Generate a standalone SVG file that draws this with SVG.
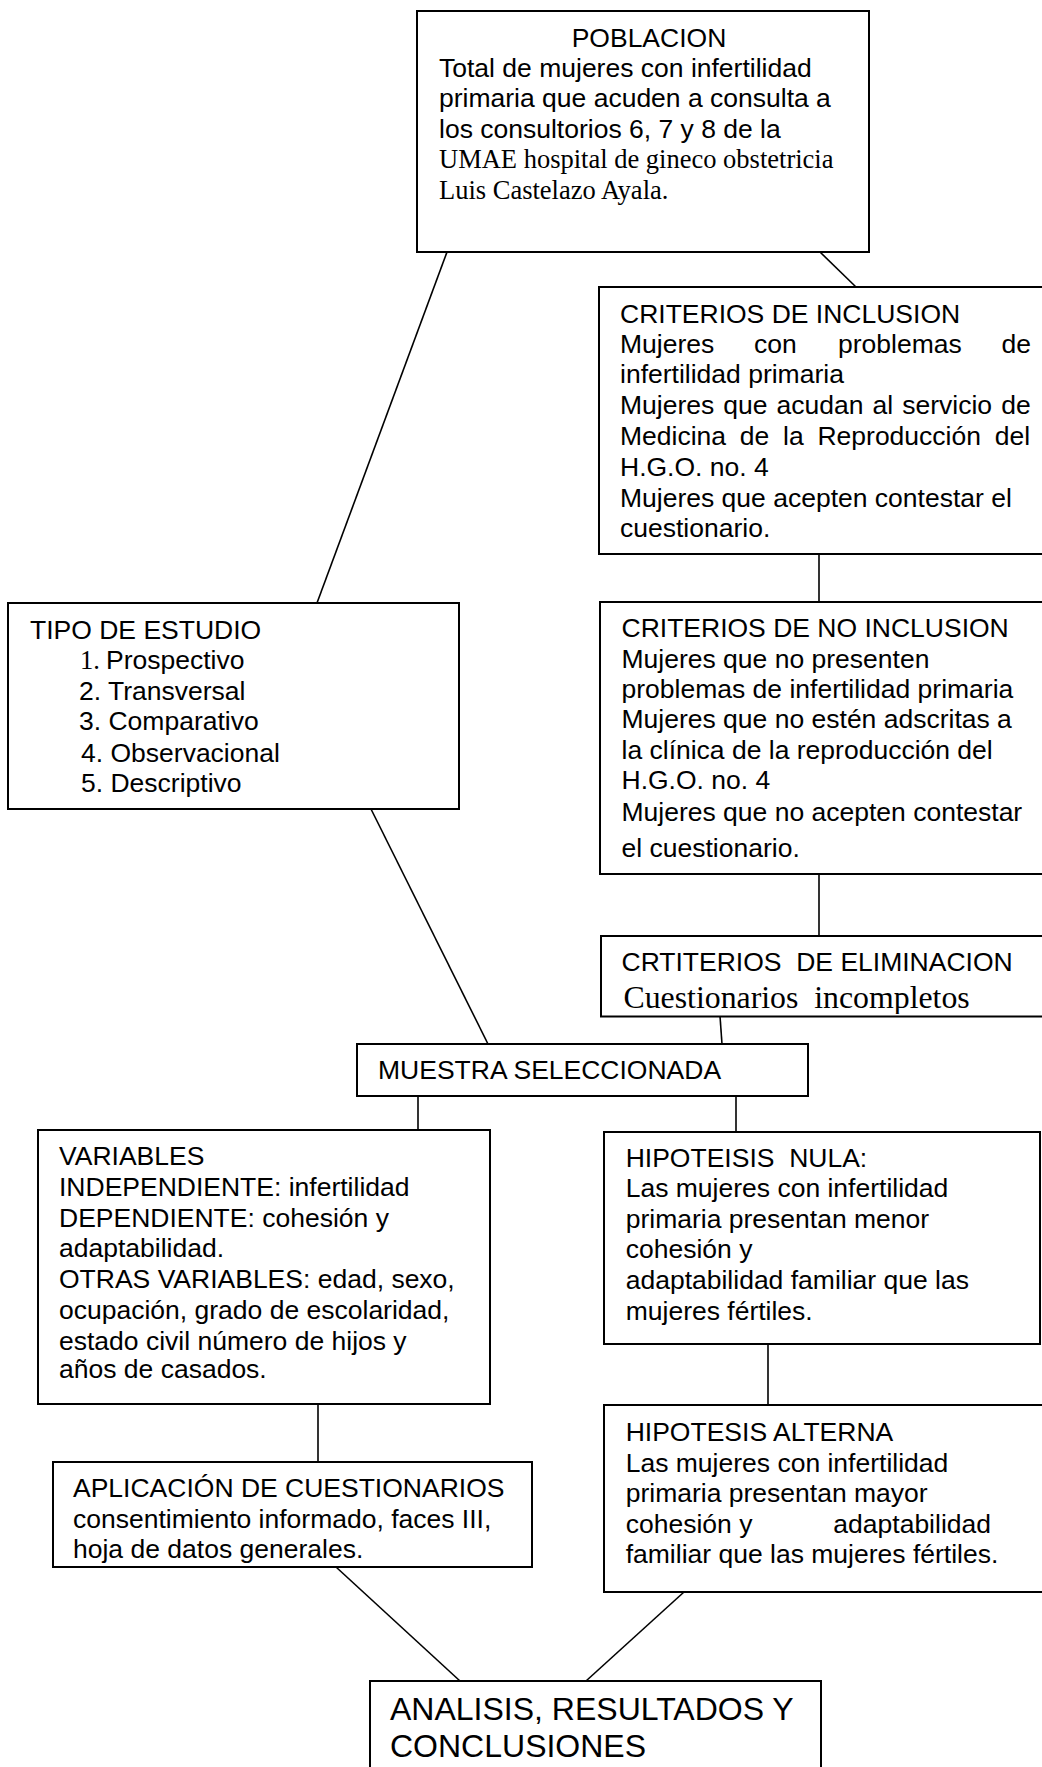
<svg xmlns="http://www.w3.org/2000/svg" width="1042" height="1767" viewBox="0 0 1042 1767">
<style>
.box{fill:#fff;stroke:#000;stroke-width:2}
.ln{stroke:#000;stroke-width:1.6;fill:none}
text{font-family:"Liberation Sans",Arial,sans-serif;font-size:26.5px;fill:#000}
.tr{font-family:"Liberation Serif","Times New Roman",serif}
.big{font-size:32px}
.cue{font-size:31.8px}
</style>
<defs>
<clipPath id="elimclip"><rect x="601" y="936" width="460" height="78"/></clipPath>
</defs>
<rect width="1042" height="1767" fill="#fff"/>
<g id="connectors">
<line class="ln" x1="447" y1="252" x2="317" y2="603"/>
<line class="ln" x1="820" y1="252" x2="856" y2="287"/>
<line class="ln" x1="819" y1="554" x2="819" y2="602"/>
<line class="ln" x1="819" y1="869" x2="819" y2="936"/>
<line class="ln" x1="371" y1="809" x2="488" y2="1044"/>
<line class="ln" x1="720" y1="1016" x2="722" y2="1044"/>
<line class="ln" x1="418" y1="1096" x2="418" y2="1130"/>
<line class="ln" x1="736" y1="1096" x2="736" y2="1132"/>
<line class="ln" x1="768" y1="1344" x2="768" y2="1405"/>
<line class="ln" x1="318" y1="1404" x2="318" y2="1462"/>
<line class="ln" x1="336" y1="1567" x2="460" y2="1681"/>
<line class="ln" x1="684" y1="1592" x2="586" y2="1681"/>
</g>
<g id="poblacion">
<rect class="box" x="417" y="11" width="452" height="241"/>
<text x="649" y="47" text-anchor="middle">POBLACION</text>
<text x="439" y="77.3">Total de mujeres con infertilidad</text>
<text x="439" y="107.3">primaria que acuden a consulta a</text>
<text x="439" y="137.7">los consultorios 6, 7 y 8 de la</text>
<text class="tr" x="439" y="168.3">UMAE hospital de gineco obstetricia</text>
<text class="tr" x="439" y="199">Luis Castelazo Ayala.</text>
</g>
<g id="inclusion">
<rect class="box" x="599" y="287" width="460" height="267"/>
<text x="620" y="322.7">CRITERIOS DE INCLUSION</text>
<text y="353.3"><tspan x="620">Mujeres</tspan><tspan x="754">con</tspan><tspan x="838">problemas</tspan><tspan x="1031" text-anchor="end">de</tspan></text>
<text x="620" y="383.3">infertilidad primaria</text>
<text x="620" y="414.3" word-spacing="1.7">Mujeres que acudan al servicio de</text>
<text x="620" y="445" word-spacing="6.4">Medicina de la Reproducción del</text>
<text x="620" y="475.7">H.G.O. no. 4</text>
<text x="620" y="506.7">Mujeres que acepten contestar el</text>
<text x="620" y="536.7">cuestionario.</text>
</g>
<g id="no-inclusion">
<rect class="box" x="600" y="602" width="460" height="272"/>
<text x="621.5" y="636.7">CRITERIOS DE NO INCLUSION</text>
<text x="621.5" y="668.3">Mujeres que no presenten</text>
<text x="621.5" y="698.3">problemas de infertilidad primaria</text>
<text x="621.5" y="728.3">Mujeres que no estén adscritas a</text>
<text x="621.5" y="759">la clínica de la reproducción del</text>
<text x="621.5" y="789.3">H.G.O. no. 4</text>
<text x="621.5" y="820.7">Mujeres que no acepten contestar</text>
<text x="621.5" y="856.7">el cuestionario.</text>
</g>
<g id="eliminacion">
<rect class="box" x="601" y="936" width="460" height="80.5"/>
<text x="621.5" y="970.5" xml:space="preserve">CRTITERIOS  DE ELIMINACION</text>
<text class="tr cue" x="623.5" y="1007.5" clip-path="url(#elimclip)" xml:space="preserve">Cuestionarios  incompletos</text>
</g>
<g id="tipo-estudio">
<rect class="box" x="8" y="603" width="451" height="206"/>
<text x="30" y="639">TIPO DE ESTUDIO</text>
<text class="tr" x="80" y="669.3">1.</text><text x="106" y="669.3">Prospectivo</text>
<text x="79" y="700">2. Transversal</text>
<text x="79" y="730">3. Comparativo</text>
<text x="81" y="761.7">4. Observacional</text>
<text x="81" y="792.3">5. Descriptivo</text>
</g>
<g id="muestra">
<rect class="box" x="357" y="1044" width="451" height="52"/>
<text x="378" y="1079.3">MUESTRA SELECCIONADA</text>
</g>
<g id="variables">
<rect class="box" x="38" y="1130" width="452" height="274"/>
<text x="59" y="1165">VARIABLES</text>
<text x="59" y="1195.7">INDEPENDIENTE: infertilidad</text>
<text x="59" y="1226.7">DEPENDIENTE: cohesión y</text>
<text x="59" y="1257.3">adaptabilidad.</text>
<text x="59" y="1288.3">OTRAS VARIABLES: edad, sexo,</text>
<text x="59" y="1319">ocupación, grado de escolaridad,</text>
<text x="59" y="1350">estado civil número de hijos y</text>
<text x="59" y="1378.3">años de casados.</text>
</g>
<g id="hipotesis-nula">
<rect class="box" x="604" y="1132" width="436" height="212"/>
<text x="625.7" y="1166.7" xml:space="preserve">HIPOTEISIS  NULA:</text>
<text x="625.7" y="1197.3">Las mujeres con infertilidad</text>
<text x="625.7" y="1228.3">primaria presentan menor</text>
<text x="625.7" y="1258.3">cohesión y</text>
<text x="625.7" y="1289.3">adaptabilidad familiar que las</text>
<text x="625.7" y="1320">mujeres fértiles.</text>
</g>
<g id="hipotesis-alterna">
<rect class="box" x="604" y="1405" width="460" height="187"/>
<text x="625.7" y="1440.7">HIPOTESIS ALTERNA</text>
<text x="625.7" y="1471.7">Las mujeres con infertilidad</text>
<text x="625.7" y="1501.7">primaria presentan mayor</text>
<text y="1532.7"><tspan x="625.7">cohesión y</tspan><tspan x="991" text-anchor="end">adaptabilidad</tspan></text>
<text x="625.7" y="1563.3">familiar que las mujeres fértiles.</text>
</g>
<g id="aplicacion">
<rect class="box" x="53" y="1462" width="479" height="105"/>
<text x="73" y="1497.3">APLICACIÓN DE CUESTIONARIOS</text>
<text x="73" y="1528.3">consentimiento informado, faces III,</text>
<text x="73" y="1558.3">hoja de datos generales.</text>
</g>
<g id="analisis">
<rect class="box" x="370" y="1681" width="451" height="100"/>
<text class="big" x="390" y="1720">ANALISIS, RESULTADOS Y</text>
<text class="big" x="390" y="1756.7">CONCLUSIONES</text>
</g>
</svg>
